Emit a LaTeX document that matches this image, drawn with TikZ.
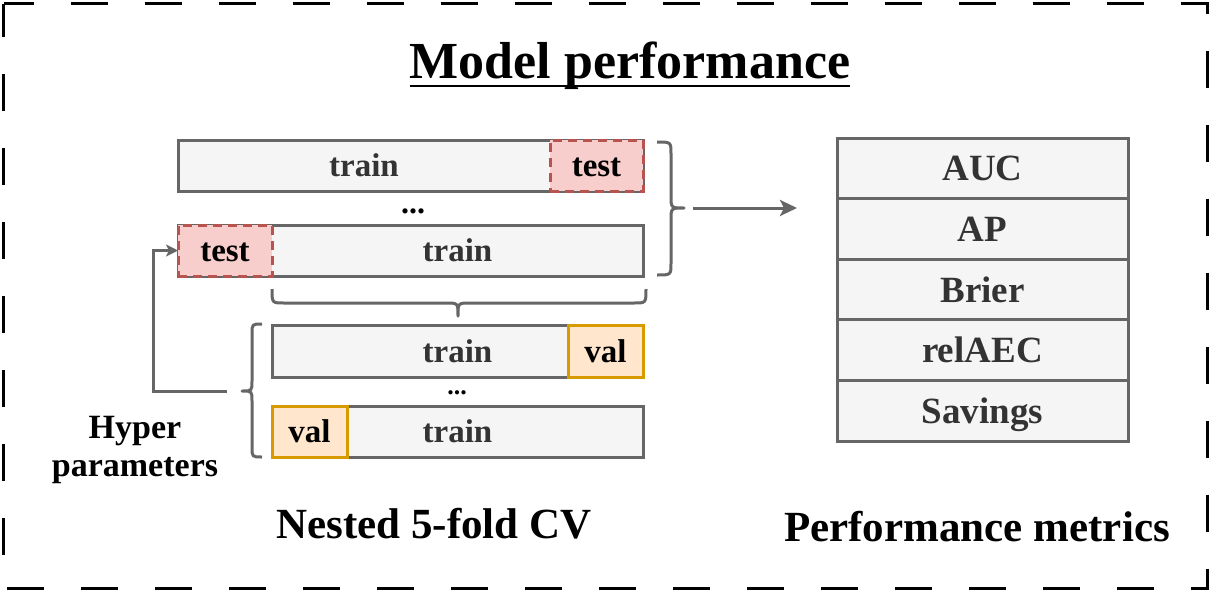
\documentclass[tikz,border=0pt]{standalone}
\usepackage{fontspec}
\setmainfont{Liberation Serif}
\usetikzlibrary{arrows.meta}

\definecolor{edgegray}{HTML}{666666}
\definecolor{panel}{HTML}{F5F5F5}
\definecolor{ink}{HTML}{333333}
\definecolor{testfill}{HTML}{F8CECC}
\definecolor{testedge}{HTML}{B85450}
\definecolor{valfill}{HTML}{FFE6CC}
\definecolor{valedge}{HTML}{D79B00}

\newcommand\setsz[1]{\fontsize{#1}{#1}\selectfont}

\begin{document}
\begin{tikzpicture}[x=1pt,y=-1pt,
  bar/.style={draw=edgegray, fill=panel, line width=3pt, minimum height=51pt,
              inner sep=0pt, outer sep=0pt, anchor=west},
  fold/.style={font=\setsz{33}\bfseries, text height=29.4pt, text depth=7.1pt,
               inner sep=0pt, outer sep=0pt, minimum height=51pt, anchor=west, line width=3pt},
  testbox/.style={fold, draw=testedge, fill=testfill, dash pattern=on 9pt off 6pt, text=black},
  valbox/.style={fold, draw=valedge, fill=valfill, text=black},
  trainlbl/.style={font=\setsz{33}\bfseries, text=ink, text height=29.4pt, text depth=7.1pt, inner sep=0pt},
  dots/.style={font=\bfseries, inner sep=0pt},
  metric/.style={draw=edgegray, fill=panel, line width=3pt, minimum width=291pt,
                 minimum height=60.6pt, inner sep=0pt, outer sep=0pt,
                 font=\setsz{37}\bfseries, text=ink, text height=33pt, text depth=8pt},
  brace/.style={draw=edgegray, line width=3pt, line join=round},
  conn/.style={draw=edgegray, line width=3pt},
  caption/.style={font=\setsz{43}\bfseries, inner sep=0pt, anchor=base}
]
\useasboundingbox (0,0) rectangle (1211,592);

% dashed frame
\draw[line width=3pt, dash pattern=on 37pt off 37pt, dash phase=7pt]
  (3.5,3.5) -- (1207.5,3.5) -- (1207.5,588.5) -- (3.5,588.5) -- cycle;

% heading
\node[font=\setsz{52}\bfseries, inner sep=0pt, anchor=base] (title) at (630,78) {Model performance};
\draw[line width=2.5pt] ([yshift=-8pt]title.base west) -- ([yshift=-8pt]title.base east);

% outer folds
\node[bar, minimum width=465pt] (b1) at (178,165.5) {};
\node[testbox, minimum width=93pt] (t1) at (550,165.5) {test};
\node[trainlbl] (tr1) at (364,165.5) {train};
\node[dots, font=\setsz{32}\bfseries] (d1) at (413,211) {...};

\node[bar, minimum width=465pt] (b2) at (178,250.5) {};
\node[testbox, minimum width=94pt] (t2) at (178,250.5) {test};
\node[trainlbl] (tr2) at (457.5,250.5) {train};

% brace grouping the outer folds
\draw[brace] (657,142) .. controls (671,142) .. (671,154) -- (671,196)
  .. controls (671,208) .. (684,208) coordinate (rbtip)
  .. controls (671,208) .. (671,220) -- (671,263) .. controls (671,275) .. (657,275);

% brace under the training part of a fold
\draw[brace] (272,289) .. controls (272,303) .. (284,303) -- (446,303)
  .. controls (458,303) .. (458,316) coordinate (bbtip)
  .. controls (458,303) .. (470,303) -- (634,303) .. controls (646,303) .. (646,289);

% inner folds
\node[bar, minimum width=371pt, minimum height=52pt] (b3) at (272,351) {};
\node[valbox, minimum width=75pt, minimum height=52pt] (v3) at (568,351) {val};
\node[trainlbl] (tr3) at (457.5,351) {train};
\node[dots, font=\setsz{26}\bfseries] (d2) at (457,393) {...};

\node[bar, minimum width=371pt] (b4) at (272,431.5) {};
\node[valbox, minimum width=75pt] (v4) at (272,431.5) {val};
\node[trainlbl] (tr4) at (457.5,431.5) {train};

% brace grouping the inner folds
\draw[brace] (262,324) .. controls (252,324) .. (252,334) -- (252,381)
  .. controls (252,391) .. (242,391) coordinate (lbtip)
  .. controls (252,391) .. (252,401) -- (252,447) .. controls (252,457) .. (262,457);

% hyperparameters fed back to the outer fold
\coordinate (hpstart) at (227,391);
\draw[conn, -{Stealth[length=12pt, width=12pt, inset=3pt]}]
  (hpstart) -| ([xshift=-25pt]t2.west) -- (t2.west);
\node[font=\setsz{34}\bfseries, align=center, inner sep=0pt] (hp) at (135,450)
  {Hyper\\[4pt]parameters};

% metrics table
\node[metric] (m1) at (982.5,168.3) {AUC};
\node[metric] (m2) at (982.5,228.9) {AP};
\node[metric] (m3) at (982.5,289.5) {Brier};
\node[metric] (m4) at (982.5,350.1) {relAEC};
\node[metric] (m5) at (982.5,410.7) {Savings};

% results go to the metrics
\coordinate (arrstart) at (693,208);
\coordinate (arrend) at (797,208);
\draw[conn, -{Stealth[length=17pt, width=16pt, inset=4pt]}] (arrstart) -- (arrend);

% captions
\node[caption] (cv) at (434,538) {Nested 5-fold CV};
\node[caption] (pm) at (977,541) {Performance metrics};
\end{tikzpicture}
\end{document}
